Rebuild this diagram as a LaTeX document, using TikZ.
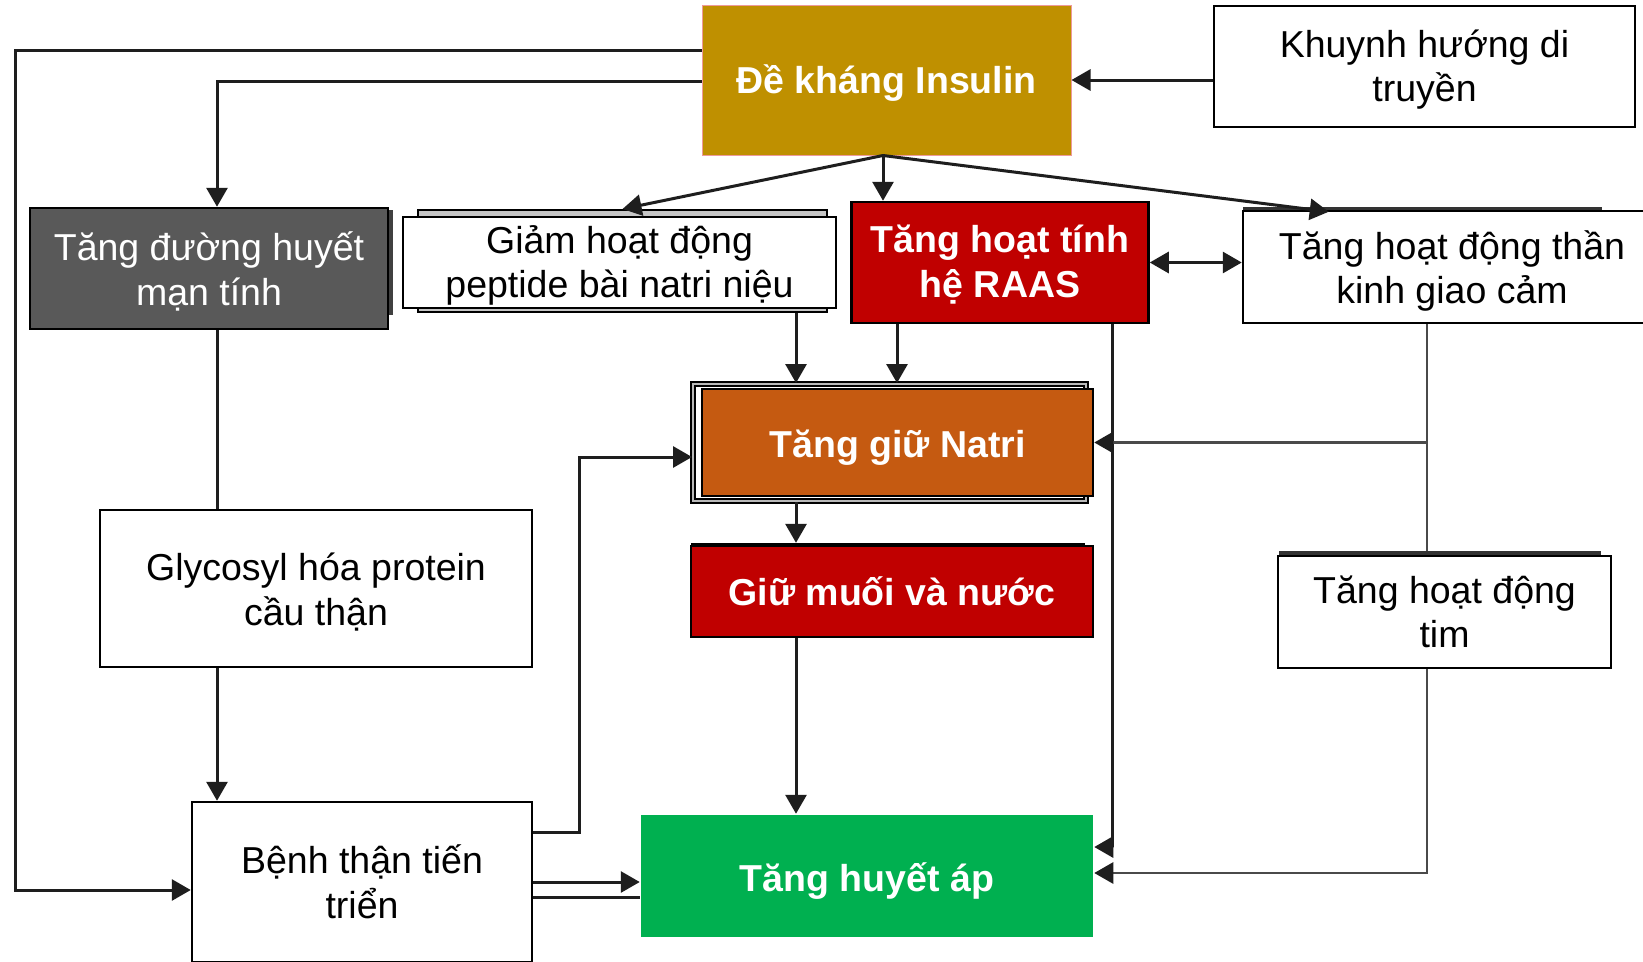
\documentclass[tikz,border=0pt]{standalone}
\usepackage{fontspec}
\setmainfont{Liberation Sans}
\usetikzlibrary{arrows.meta,calc}
\definecolor{gold}{HTML}{BF9000}
\definecolor{darkbox}{HTML}{595959}
\definecolor{raasred}{HTML}{C00000}
\definecolor{natri}{HTML}{C55A11}
\definecolor{htngreen}{HTML}{00B050}
\definecolor{linedark}{HTML}{1E1E1E}
\definecolor{linegray}{HTML}{4A4A4A}
\definecolor{pinkedge}{HTML}{EE9A9A}
\begin{document}
\begin{tikzpicture}[x=1pt,y=-1pt,
  box/.style={rectangle, inner sep=0pt, draw=black, line width=2.5pt},
  txt/.style={inner sep=0pt, align=center, font=\fontsize{37.5}{44.5}\selectfont},
  btxt/.style={txt, font=\fontsize{37.5}{44.5}\selectfont\bfseries, text=white},
  shadowbox/.style={rectangle, inner sep=0pt, draw=black, line width=2pt},
  ln/.style={draw=linedark, line width=3pt},
  lg/.style={draw=linegray, line width=2.8pt},
  arr/.style={-{Triangle[length=19pt,width=21pt,color=linedark]}},
  darr/.style={{Triangle[length=19pt,width=21pt]}-{Triangle[length=19pt,width=21pt]}}]
\useasboundingbox (0,0) rectangle (1643,961);
\fill[white] (0,0) rectangle (1643,961);

% shadows and back frames
\node[shadowbox, fill=gray!45, minimum width=409pt, minimum height=102pt] (anpsh) at (622.5,261) {};
\node[shadowbox, fill=white, double=gray!55, double distance=1.5pt, minimum width=393pt, minimum height=117pt] (nash) at (889.5,442.5) {};
\node[rectangle, inner sep=0pt, fill=black, minimum width=394pt, minimum height=40pt] (saltsh) at (888,563) {};
\node[rectangle, inner sep=0pt, fill=black!80, minimum width=322pt, minimum height=40pt] (heartsh) at (1440,571) {};
\node[rectangle, inner sep=0pt, fill=black!80, minimum width=359pt, minimum height=40pt] (snssh) at (1422.5,227) {};
\node[rectangle, inner sep=0pt, fill=black!75, minimum width=8pt, minimum height=105pt] (glush) at (389,262.5) {};

% boxes
\node[box, fill=gold, draw=pinkedge, line width=1pt, minimum width=369pt, minimum height=150pt] (ins) at (886.5,80) {};
\node[box, fill=white, minimum width=421pt, minimum height=121pt] (gen) at (1424.5,66.5) {};
\node[box, fill=darkbox, minimum width=358pt, minimum height=121pt] (glu) at (209,268.5) {};
\node[box, fill=white, minimum width=433pt, minimum height=91pt] (anp) at (619.5,262.5) {};
\node[box, fill=raasred, minimum width=297pt, minimum height=121pt] (raas) at (1000,262.5) {};
\node[box, fill=white, minimum width=418pt, minimum height=112pt] (sns) at (1452,267) {};
\node[box, fill=natri, minimum width=391pt, minimum height=107pt] (na) at (897.5,442.5) {};
\node[box, fill=raasred, minimum width=402pt, minimum height=91pt] (salt) at (892,591.5) {};
\node[box, fill=white, minimum width=432pt, minimum height=157pt] (gly) at (316,588.5) {};
\node[box, fill=white, minimum width=340pt, minimum height=160pt] (ckd) at (362,882) {};
\node[box, fill=htngreen, draw=none, minimum width=452pt, minimum height=122pt] (htn) at (867,876) {};
\node[box, fill=white, minimum width=333pt, minimum height=112pt] (heart) at (1444.5,612) {};

% box texts
\node[btxt] (ins-t) at ([yshift=-3pt]ins.center) {Đề kháng Insulin};
\node[txt] (gen-t) at ([yshift=-3pt]gen.center) {Khuynh hướng di\\truyền};
\node[txt, text=white] (glu-t) at ([yshift=-3pt]glu.center) {Tăng đường huyết\\mạn tính};
\node[txt] (anp-t) at ([yshift=-3pt]anp.center) {Giảm hoạt động\\peptide bài natri niệu};
\node[btxt] (raas-t) at ([yshift=-2pt]raas.center) {Tăng hoạt tính\\hệ RAAS};
\node[txt] (sns-t) at ([yshift=-4pt]sns.center) {Tăng hoạt động thần\\kinh giao cảm};
\node[btxt] (na-t) at ([yshift=-5pt]na.center) {Tăng giữ Natri};
\node[btxt] (salt-t) at (salt.center) {Giữ muối và nước};
\node[txt] (gly-t) at ([yshift=-3.5pt]gly.center) {Glycosyl hóa protein\\cầu thận};
\node[txt] (ckd-t) at (ckd.center) {Bệnh thận tiến\\triển};
\node[btxt] (htn-t) at ([yshift=-5pt]htn.center) {Tăng huyết áp};
\node[txt] (heart-t) at (heart.center) {Tăng hoạt động\\tim};

% reference columns and corners for the routed connectors
\coordinate (ipt) at ([xshift=-3.5pt]ins.south);
\coordinate (xa) at (796,0);
\coordinate (xb) at (897,0);
\coordinate (xc) at (1112,0);
\coordinate (xd) at (1427,0);
\coordinate (xe) at ([xshift=8pt]glu.south);
\coordinate (outer) at (15,890);
\coordinate (riser) at (579,457);

% connectors
\draw[ln,arr] ([yshift=30pt]ins.west) -| (outer) -- ([yshift=-8pt]ckd.west);
\draw[ln,arr] ([yshift=-1pt]ins.west) -| (xe |- glu.north);
\draw[ln,arr] (gen.west |- ins.east) -- (ins.east);
\draw[ln,arr] (ipt) -- (anpsh.north);
\draw[ln,arr] (ipt) -- (ipt |- raas.north);
\draw[ln,arr] (ipt) -- ([xshift=87pt,yshift=-2pt]sns.north west);
\draw[ln,darr] (raas.east) -- (sns.west |- raas.east);
\draw[ln,arr] (anpsh.south -| xa) -- (nash.north -| xa);
\draw[ln,arr] (raas.south -| xb) -- (nash.north -| xb);
\draw[ln,arr] (nash.south -| xa) -- (saltsh.north -| xa);
\draw[ln,arr] (salt.south -| xa) -- (htn.north -| xa);
\draw[ln,arr] (raas.south -| xc) |- ([yshift=29pt]htn.east);
\draw[lg,arr] (sns.south -| xd) |- (na.east);
\draw[lg] (sns.south -| xd) -- (heartsh.north -| xd);
\draw[lg,arr] (heart.south -| xd) |- ([yshift=3pt]htn.east);
\draw[ln] (xe |- glu.south) -- (xe |- gly.north);
\draw[ln,arr] (xe |- gly.south) -- (xe |- ckd.north);
\draw[ln,arr] ([yshift=50pt]ckd.east) -| (riser) -- ([yshift=-14.5pt]nash.west);
\draw[ln,arr] (ckd.east) -- (ckd.east -| htn.west);
\draw[ln] ([yshift=-15pt]ckd.east) -- ([yshift=-15pt]ckd.east -| htn.west);
\end{tikzpicture}
\end{document}
